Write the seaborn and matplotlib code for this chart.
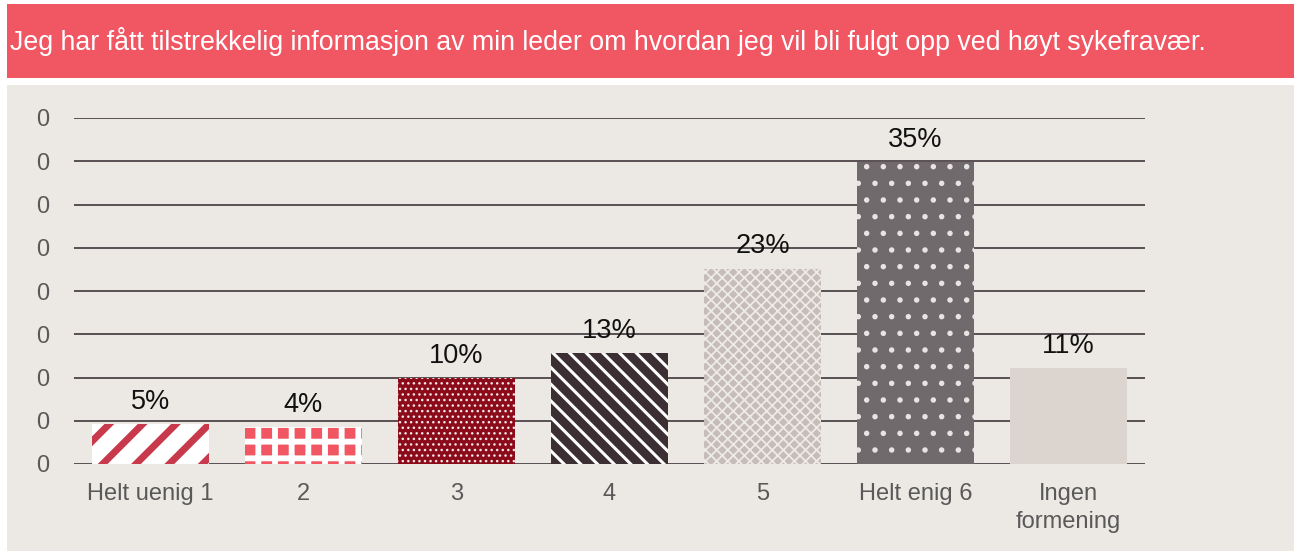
import numpy as np
import matplotlib
matplotlib.use("Agg")
import matplotlib.pyplot as plt
import matplotlib.patches as mpatches
from matplotlib.ticker import FuncFormatter
import seaborn as sns

# Data
kategorier = ["Helt uenig 1", "2", "3", "4", "5", "Helt enig 6", "Ingen\nformening"]
andeler = [0.046, 0.043, 0.099, 0.128, 0.226, 0.349, 0.111]
etiketter = ["5%", "4%", "10%", "13%", "23%", "35%", "11%"]
y_ticks = [0.0, 0.05, 0.10, 0.15, 0.20, 0.25, 0.30, 0.35, 0.40]
tittel = "Jeg har fått tilstrekkelig informasjon av min leder om hvordan jeg vil bli fulgt opp ved høyt sykefravær."

# Mønster per søyle: bakgrunn, skravurfarge, skravur, linjebredde
bakgrunn = ["#FFFFFF", "#F15663", "#8C0B1B", "#3B2F33", "#C6BDB8", "#716A6D", "#DCD5CF"]
skravurfarge = ["#C8394B", "#FFFFFF", "#F2E6E6", "#FFFFFF", "#EEEAE6", "#E8E4E4", "#DCD5CF"]
skravur = ["/", "+", "...", "\\\\", "xxx", ".", ""]
skravur_lw = [5.0, 4.2, 1.0, 2.2, 1.3, 1.5, 0.0]

sns.set_style("white")
plt.rcParams['font.family'] = ['Liberation Sans', 'DejaVu Sans']

fig = plt.figure(figsize=(12.94, 5.51), dpi=100)
fig.patch.set_facecolor("white")

# Bakgrunnspanel og tittelbanner
fig.patches.append(mpatches.Rectangle((7 / 1294, 0), 1, 1 - 85 / 551, transform=fig.transFigure,
                                      facecolor="#ECE9E4", edgecolor="none", zorder=-10))
fig.patches.append(mpatches.Rectangle((7 / 1294, 1 - 78 / 551), 1, 74 / 551, transform=fig.transFigure,
                                      facecolor="#F15663", edgecolor="none", zorder=-10))
fig.text(10 / 1294, 1 - 42 / 551, tittel, color="white", fontsize=19.25, va="center", ha="left")

ax = fig.add_axes([74 / 1294, 1 - 464 / 551, 1071 / 1294, 346 / 551])
ax.set_facecolor("none")

sns.barplot(x=kategorier, y=andeler, hue=kategorier, palette=bakgrunn, legend=False,
            width=0.77, ax=ax, saturation=1)

for p, fc, hc, h, lw in zip(ax.patches, bakgrunn, skravurfarge, skravur, skravur_lw):
    p.set_facecolor(fc)
    p.set_edgecolor(hc)
    p.set_linewidth(0)
    if h:
        p.set_hatch(h)
        if hasattr(p, "set_hatch_linewidth"):
            p.set_hatch_linewidth(lw)
        else:
            p._hatch_linewidth = lw
    p.set_zorder(3)

for i, (v, lab) in enumerate(zip(andeler, etiketter)):
    ax.annotate(lab, (i, v), xytext=(0, 11), textcoords="offset points",
                ha="center", va="baseline", fontsize=19.5, color="#111111", zorder=5)

ax.set_ylim(0, 0.40)
ax.set_yticks(y_ticks)
ax.yaxis.set_major_formatter(FuncFormatter(lambda v, pos: f"{v:.0f}"))
ax.grid(axis="y", color="#574F52", linewidth=1.4)
ax.set_axisbelow(True)
for s in ax.spines.values():
    s.set_visible(False)
ax.tick_params(axis="y", length=0, pad=18, labelsize=17, labelcolor="#595959")
ax.tick_params(axis="x", length=0, pad=14, labelsize=17, labelcolor="#595959")
for t in ax.get_xticklabels():
    t.set_linespacing(1.33)
ax.set_xlabel("")
ax.set_ylabel("")

fig.savefig("out.png", dpi=100)
